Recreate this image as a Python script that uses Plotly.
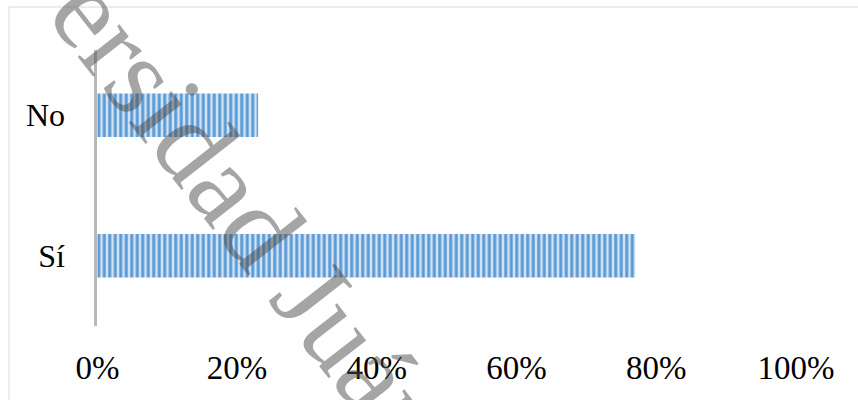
import plotly.graph_objects as go

categories = ["Sí", "No"]
values = [0.77, 0.23]
x_ticks = [0, 0.2, 0.4, 0.6, 0.8, 1.0]
x_tick_labels = ["0%", "20%", "40%", "60%", "80%", "100%"]
watermark = "Universidad Juárez Autónoma de Tabasco"

serif = "Liberation Serif, Times New Roman, serif"

fig = go.Figure()
fig.add_trace(go.Bar(
    y=categories,
    x=values,
    orientation="h",
    width=0.31,
    marker=dict(
        color="#d3e3f4",
        line=dict(width=0),
        pattern=dict(shape="|", fgcolor="#5b9bd5", bgcolor="#d3e3f4",
                     size=5.5, solidity=0.55, fillmode="replace"),
    ),
    hoverinfo="skip",
))

L, R, T, B = 96, 62, 45, 74
W, H = 858, 400
pw, ph = W - L - R, H - T - B

def px_x(p):
    return (p - L) / pw

def px_y(p):
    return (H - B - p) / ph

fig.update_layout(
    width=W, height=H,
    margin=dict(l=L, r=R, t=T, b=B, pad=0),
    paper_bgcolor="white",
    plot_bgcolor="white",
    showlegend=False,
    bargap=0.69,
    xaxis=dict(
        range=[-0.002, 1.0],
        tickvals=x_ticks,
        ticktext=x_tick_labels,
        showgrid=False,
        zeroline=False,
        showline=False,
        ticks="",
        ticklabelstandoff=19,
        tickfont=dict(family=serif, size=33, color="black"),
        fixedrange=True,
    ),
    yaxis=dict(
        range=[-0.5, 1.5],
        showgrid=False,
        zeroline=False,
        showline=False,
        ticks="",
        ticklabelstandoff=30,
        tickfont=dict(family=serif, size=32, color="black"),
        fixedrange=True,
    ),
    shapes=[
        # chart frame
        dict(type="rect", xref="paper", yref="paper",
             x0=px_x(9), x1=px_x(900), y0=px_y(450), y1=px_y(7),
             line=dict(color="#d9d9d9", width=1), fillcolor="rgba(0,0,0,0)",
             layer="below"),
        # vertical category axis line
        dict(type="line", xref="paper", yref="paper",
             x0=px_x(95.5), x1=px_x(95.5), y0=px_y(326), y1=px_y(50),
             line=dict(color="#b8b8b8", width=3), layer="above"),
    ],
    annotations=[
        dict(text=watermark, xref="paper", yref="paper",
             x=px_x(528), y=px_y(570), xanchor="center", yanchor="middle",
             textangle=52, showarrow=False,
             font=dict(family=serif, size=115, color="rgba(75,75,75,0.5)")),
    ],
)

fig.write_html("out.html")
